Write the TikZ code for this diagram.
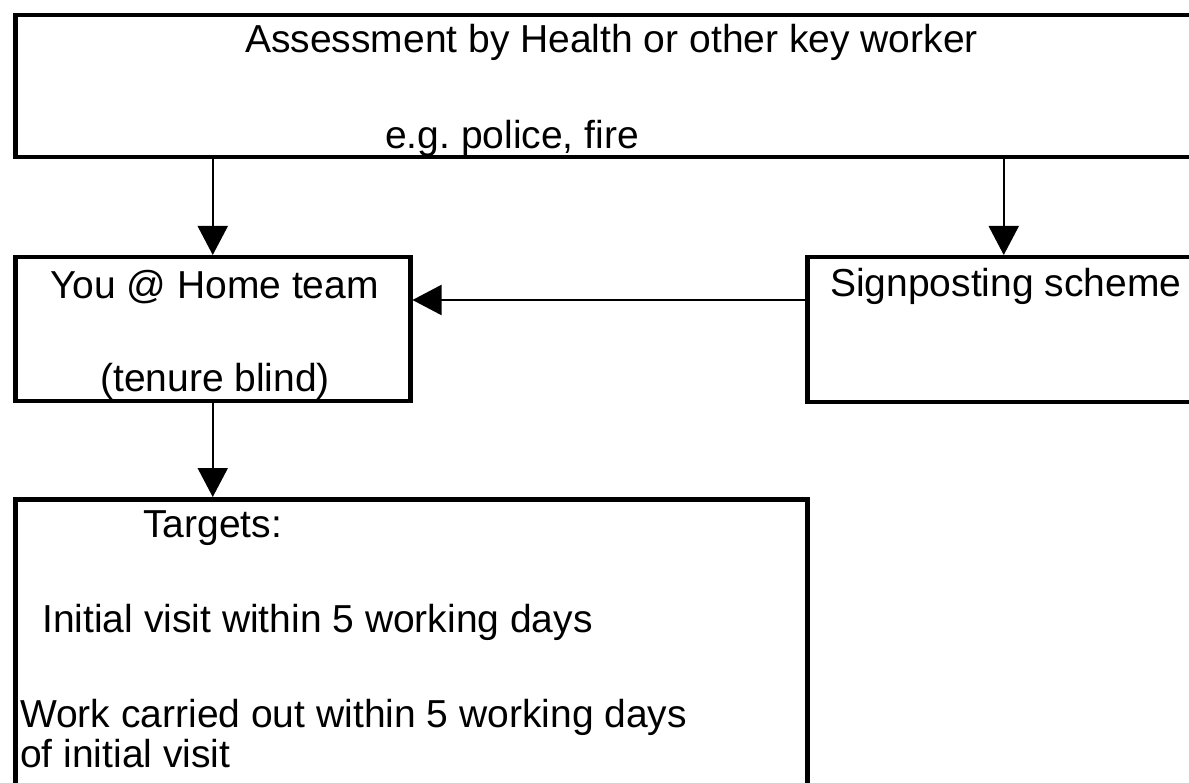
\documentclass[tikz,border=0pt]{standalone}
\usepackage{fontspec}
\setmainfont{Liberation Sans}
\usetikzlibrary{arrows.meta}
\frenchspacing
\begin{document}
\begin{tikzpicture}[x=1pt,y=-1pt,
  box/.style={draw, line width=4.5pt, inner sep=0pt, anchor=north west},
  lbl/.style={anchor=base west, inner sep=0pt, font=\fontsize{39}{47}\selectfont},
  arr/.style={line width=2pt, -{Triangle[width=30pt,length=29pt]}}]
\useasboundingbox (0,0) rectangle (1189,783);
\clip (0,0) rectangle (1189,783);
% boxes
\node[box, minimum width=1185pt, minimum height=142pt] (top) at (13,13) {};
\node[box, minimum width=395pt, minimum height=144pt] (you) at (13,255) {};
\node[box, minimum width=393pt, minimum height=145pt] (sign) at (805,255) {};
\node[box, minimum width=792pt, minimum height=301pt] (tgt) at (13,497) {};
% texts
\node[lbl] (t1) at (245,53) {Assessment by Health or other key worker};
\node[lbl] (t2) at (385,149) {e.g. police, fire};
\node[lbl] (t3) at (50,299) {You @ Home team};
\node[lbl] (t4) at (100,392) {(tenure blind)};
\node[lbl] (t5) at (830,297) {Signposting scheme};
\node[lbl] (t6) at (143,537) {Targets:};
\node[lbl] (t7) at (42,632) {Initial visit within 5 working days};
\node[lbl] (t8) at (20,727) {Work carried out within 5 working days};
\node[lbl] (t9) at (20,767) {of initial visit};
% connectors
\coordinate (h) at (0,300);
\draw[arr] (you.north |- top.south) -- (you.north);
\draw[arr] (sign.north |- top.south) -- (sign.north);
\draw[arr] (sign.west |- h) -- (you.east |- h);
\draw[arr] (you.south) -- (you.south |- tgt.north);
\end{tikzpicture}
\end{document}
